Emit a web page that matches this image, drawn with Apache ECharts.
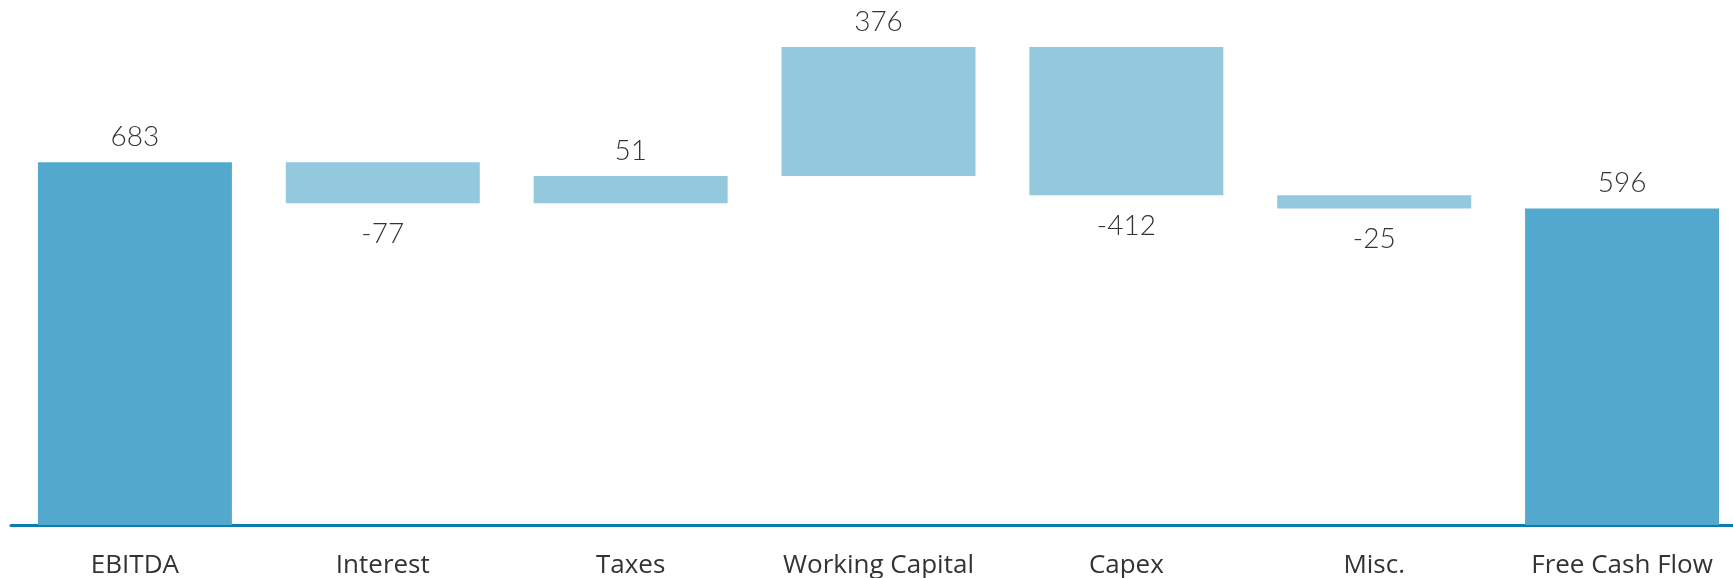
<!DOCTYPE html>
<html>
	<head>
		<meta charset="UTF-8">
		<title>Free Cash Flow Bridge</title>
		<script src="https://cdn.jsdelivr.net/npm/echarts@6/dist/echarts.min.js"></script>
		<style>
			html, body { margin: 0; padding: 0; background: #fff; }
			#bridge { width: 1733px; height: 578px; }
		</style>
	</head>
	<body>
		<div id="bridge"></div>
		<script>
		// categories and signed movements
		var categories = ['EBITDA', 'Interest', 'Taxes', 'Working Capital', 'Capex', 'Misc.', 'Free Cash Flow'];
		var changes = [683, -77, 51, 376, -412, -25, 596];
		var isTotal = [true, false, false, false, false, false, true];

		var totalColor = '#52A9CD';
		var stepColor = '#94C8DC';

		// invisible base + visible bar for the waterfall
		var baseData = [];
		var barData = [];
		var running = 0;
		for (var i = 0; i < changes.length; i++) {
			var v = changes[i];
			var base, h;
			if (isTotal[i]) {
				base = 0; h = v; running = v;
			} else if (v >= 0) {
				base = running; h = v; running += v;
			} else {
				running += v; base = running; h = -v;
			}
			baseData.push(base);
			barData.push({
				value: h,
				signed: v,
				itemStyle: { color: isTotal[i] ? totalColor : stepColor },
				label: v >= 0 ? { position: 'top', distance: 11 } : { position: 'bottom', distance: 17 }
			});
		}

		var chart = echarts.init(document.getElementById('bridge'));
		chart.setOption({
			animation: false,
			grid: {
				left: 11,
				top: 47,
				width: 1735,
				bottom: 53,
				containLabel: false,
				outerBoundsMode: 'none'
			},
			xAxis: {
				type: 'category',
				data: categories,
				axisLine: { show: true, lineStyle: { color: '#087DAF', width: 3 } },
				axisTick: { show: false },
				axisLabel: {
					interval: 0,
					margin: 28,
					color: '#333',
					fontFamily: 'Open Sans',
					fontSize: 26
				}
			},
			yAxis: {
				type: 'value',
				min: 0,
				max: 900,
				show: false,
				splitLine: { show: false }
			},
			series: [{
				type: 'bar',
				stack: 'bridge',
				barWidth: 194,
				itemStyle: { color: 'transparent' },
				data: baseData,
				silent: true
			}, {
				type: 'bar',
				stack: 'bridge',
				barWidth: 194,
				data: barData,
				label: {
					show: true,
					color: '#333',
					fontFamily: 'Lato',
					fontWeight: 300,
					fontSize: 28,
					formatter: function (p) {
						return String(p.data.signed);
					}
				}
			}]
		});
		</script>
	</body>
</html>
